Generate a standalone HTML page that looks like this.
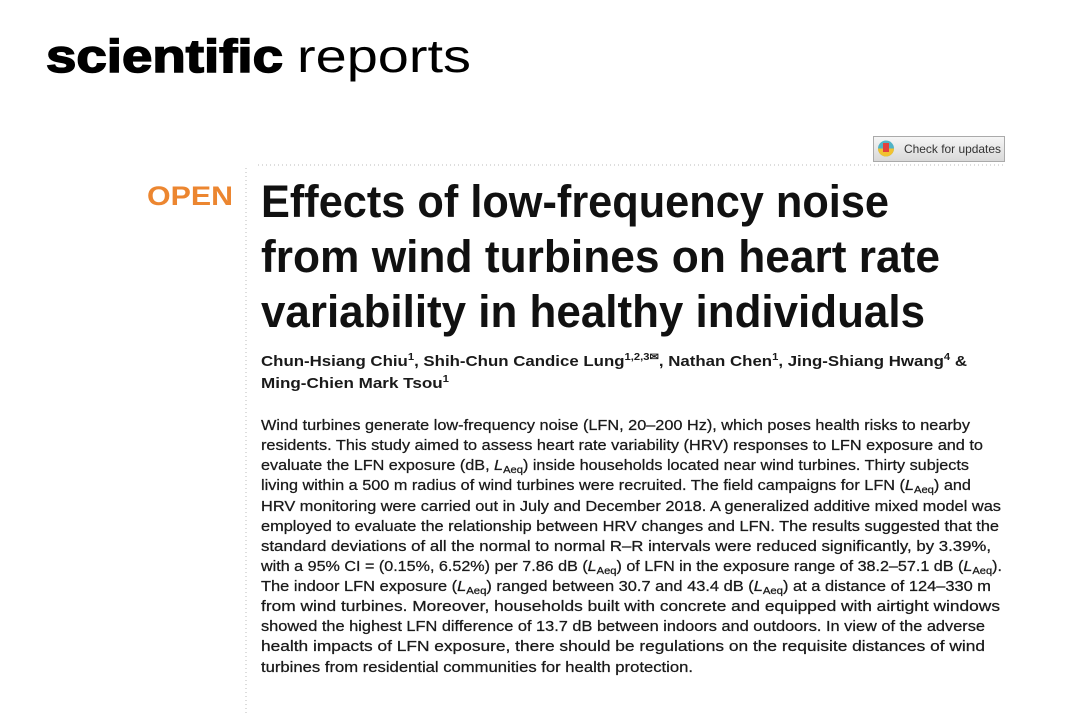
<!DOCTYPE html>
<html><head><meta charset="utf-8"><style>
html,body{margin:0;padding:0;background:#fff;}
svg{display:block;}
.ab{font-family:"Liberation Sans",sans-serif;font-size:14.5px;fill:#1a1a1a;stroke:#1a1a1a;stroke-width:0.25;}
.au{font-family:"Liberation Sans",sans-serif;font-size:15px;font-weight:bold;fill:#1a1a1a;}
.ti{font-family:"Liberation Sans",sans-serif;font-size:45px;font-weight:bold;fill:#111;}
</style></head><body>
<svg width="1076" height="714" viewBox="0 0 1076 714" xmlns="http://www.w3.org/2000/svg">
<rect width="1076" height="714" fill="#fff"/>
<text x="46" y="72" font-family="Liberation Sans,sans-serif" font-size="46" font-weight="bold" fill="#000" stroke="#000" stroke-width="1.5" textLength="237" lengthAdjust="spacingAndGlyphs">scientific</text>
<text x="297" y="72" font-family="Liberation Sans,sans-serif" font-size="46" fill="#000" textLength="174" lengthAdjust="spacingAndGlyphs">reports</text>
<line x1="258" y1="165" x2="1005" y2="165" stroke="#bbb" stroke-width="1" stroke-dasharray="1,3"/>
<line x1="246" y1="168" x2="246" y2="714" stroke="#bbb" stroke-width="1" stroke-dasharray="1,3"/>
<defs><linearGradient id="g" x1="0" y1="0" x2="0" y2="1"><stop offset="0" stop-color="#f6f6f6"/><stop offset="1" stop-color="#d8d8d8"/></linearGradient></defs>
<rect x="873.5" y="136.5" width="131" height="25" fill="url(#g)" stroke="#aaa"/>
<circle cx="886" cy="148.5" r="8" fill="#4fb3c6"/>
<path d="M886 148.5 L878 148.5 A8 8 0 0 0 894 148.5Z" fill="#f2c230"/>
<rect x="883" y="143" width="6" height="9" fill="#e2403e"/>
<text x="904" y="153" font-family="Liberation Sans,sans-serif" font-size="12" fill="#333" textLength="97" lengthAdjust="spacingAndGlyphs">Check for updates</text>
<text x="147" y="205" font-family="Liberation Sans,sans-serif" font-size="27" font-weight="bold" fill="#ec8630" textLength="86" lengthAdjust="spacingAndGlyphs">OPEN</text>
<text class="ti" x="261" y="217" textLength="628" lengthAdjust="spacingAndGlyphs">Effects of low-frequency noise</text>
<text class="ti" x="261" y="272" textLength="679" lengthAdjust="spacingAndGlyphs">from wind turbines on heart rate</text>
<text class="ti" x="261" y="327" textLength="664" lengthAdjust="spacingAndGlyphs">variability in healthy individuals</text>
<text class="au" x="261" y="366" textLength="706" lengthAdjust="spacingAndGlyphs">Chun-Hsiang Chiu<tspan font-size="10" dy="-6">1</tspan><tspan dy="6">, Shih-Chun Candice Lung</tspan><tspan font-size="10" dy="-6">1,2,3✉</tspan><tspan dy="6">, Nathan Chen</tspan><tspan font-size="10" dy="-6">1</tspan><tspan dy="6">, Jing-Shiang Hwang</tspan><tspan font-size="10" dy="-6">4</tspan><tspan dy="6"> &amp;</tspan></text>
<text class="au" x="261" y="388" textLength="188" lengthAdjust="spacingAndGlyphs">Ming-Chien Mark Tsou<tspan font-size="10" dy="-6">1</tspan></text>
<g class="ab">
<text x="261" y="430" textLength="709" lengthAdjust="spacingAndGlyphs">Wind turbines generate low-frequency noise (LFN, 20–200 Hz), which poses health risks to nearby</text>
<text x="261" y="450" textLength="722" lengthAdjust="spacingAndGlyphs">residents. This study aimed to assess heart rate variability (HRV) responses to LFN exposure and to</text>
<text x="261" y="470" textLength="708" lengthAdjust="spacingAndGlyphs">evaluate the LFN exposure (dB, <tspan font-style="italic">L</tspan><tspan font-size="10" dy="3">Aeq</tspan><tspan dy="-3">) inside households located near wind turbines. Thirty subjects</tspan></text>
<text x="261" y="490" textLength="710" lengthAdjust="spacingAndGlyphs">living within a 500 m radius of wind turbines were recruited. The field campaigns for LFN (<tspan font-style="italic">L</tspan><tspan font-size="10" dy="3">Aeq</tspan><tspan dy="-3">) and</tspan></text>
<text x="261" y="511" textLength="740" lengthAdjust="spacingAndGlyphs">HRV monitoring were carried out in July and December 2018. A generalized additive mixed model was</text>
<text x="261" y="531" textLength="738" lengthAdjust="spacingAndGlyphs">employed to evaluate the relationship between HRV changes and LFN. The results suggested that the</text>
<text x="261" y="551" textLength="730" lengthAdjust="spacingAndGlyphs">standard deviations of all the normal to normal R–R intervals were reduced significantly, by 3.39%,</text>
<text x="261" y="571" textLength="741" lengthAdjust="spacingAndGlyphs">with a 95% CI = (0.15%, 6.52%) per 7.86 dB (<tspan font-style="italic">L</tspan><tspan font-size="10" dy="3">Aeq</tspan><tspan dy="-3">) of LFN in the exposure range of 38.2–57.1 dB (</tspan><tspan font-style="italic">L</tspan><tspan font-size="10" dy="3">Aeq</tspan><tspan dy="-3">).</tspan></text>
<text x="261" y="591" textLength="730" lengthAdjust="spacingAndGlyphs">The indoor LFN exposure (<tspan font-style="italic">L</tspan><tspan font-size="10" dy="3">Aeq</tspan><tspan dy="-3">) ranged between 30.7 and 43.4 dB (</tspan><tspan font-style="italic">L</tspan><tspan font-size="10" dy="3">Aeq</tspan><tspan dy="-3">) at a distance of 124–330 m</tspan></text>
<text x="261" y="611" textLength="739" lengthAdjust="spacingAndGlyphs">from wind turbines. Moreover, households built with concrete and equipped with airtight windows</text>
<text x="261" y="631" textLength="724" lengthAdjust="spacingAndGlyphs">showed the highest LFN difference of 13.7 dB between indoors and outdoors. In view of the adverse</text>
<text x="261" y="651" textLength="724" lengthAdjust="spacingAndGlyphs">health impacts of LFN exposure, there should be regulations on the requisite distances of wind</text>
<text x="261" y="672" textLength="432" lengthAdjust="spacingAndGlyphs">turbines from residential communities for health protection.</text>
</g>
</svg>
</body></html>
